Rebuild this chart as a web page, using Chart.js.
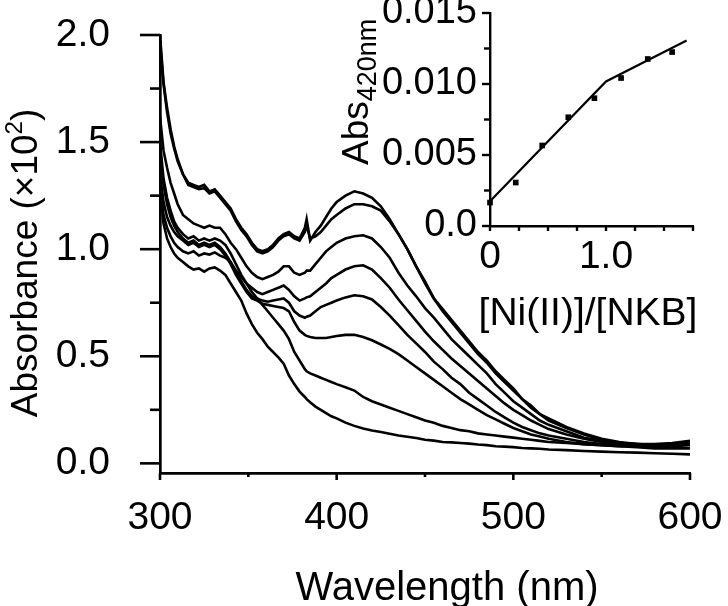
<!DOCTYPE html>
<html>
<head>
<meta charset="utf-8">
<script src="https://cdn.jsdelivr.net/npm/chart.js@4.4.0/dist/chart.umd.min.js"></script>
<style>
  html, body { margin: 0; padding: 0; background: #fff; }
  #wrap { position: relative; width: 728px; height: 606px; }
  #main { position: absolute; left: 0; top: 0; }
  #inset { position: absolute; left: 330px; top: 0; }
</style>
</head>
<body>
<div id="wrap">
  <canvas id="main" width="728" height="606"></canvas>
  <canvas id="inset" width="398" height="345"></canvas>
</div>
<script>
// Datos del espectro (nm)
const wavelengths = [300,302,304,306,308,310,
  313,316,319,322,325,328,331,334,337,340,
  343,346,349,352,355,358,361,364,367,370,
  373,376,379,382, 383,385, 388,391,394,397,400,
  405,410,415,420,425,430,435,440,445,450,
  455,460,465,470,475,480,485,490,495,500,
  505,510,515,520, 530,540,550,560,570,580,590,600];

// Absorbancia (x10^2), de la curva mas alta a la mas baja
const abs1 = [2.00,1.78,1.66,1.56,1.48,1.42,
  1.35,1.31,1.30,1.29,1.30,1.27,1.28,1.25,1.22,1.19,
  1.14,1.10,1.07,1.03,1.00,0.99,1.00,1.02,1.05,1.07,
  1.08,1.06,1.05,1.10, 1.14,1.04, 1.08,1.11,1.15,1.19,1.22,
  1.25,1.27,1.26,1.24,1.20,1.14,1.07,1.00,0.92,0.85,
  0.77,0.72,0.67,0.62,0.57,0.52,0.48,0.43,0.39,0.35,
  0.30,0.27,0.23,0.21, 0.17,0.14,0.115,0.10,0.09,0.09,0.095,0.105];
const abs2 = [1.97,1.77,1.64,1.54,1.47,1.41,
  1.35,1.30,1.29,1.28,1.285,1.26,1.27,1.24,1.21,1.18,
  1.13,1.09,1.06,1.02,0.99,0.98,0.99,1.01,1.04,1.06,
  1.07,1.05,1.04,1.08, 1.11,1.05, 1.06,1.08,1.11,1.14,1.16,
  1.19,1.21,1.21,1.20,1.18,1.13,1.07,1.00,0.92,0.84,
  0.77,0.71,0.66,0.61,0.56,0.51,0.47,0.42,0.38,0.34,
  0.30,0.26,0.23,0.20, 0.165,0.135,0.11,0.095,0.09,0.085,0.09,0.10];
const abs3 = [1.62,1.46,1.38,1.31,1.26,1.21,
  1.16,1.14,1.12,1.11,1.10,1.11,1.10,1.10,1.07,1.03,
  1.00,0.96,0.92,0.89,0.87,0.86,0.87,0.88,0.895,0.92,
  0.92,0.89,0.88,0.89, 0.90,0.90, 0.93,0.96,0.99,1.01,1.03,
  1.05,1.06,1.065,1.05,1.01,0.96,0.89,0.83,0.78,0.725,
  0.68,0.63,0.58,0.54,0.50,0.46,0.42,0.37,0.33,0.29,
  0.26,0.23,0.20,0.18, 0.15,0.12,0.105,0.095,0.09,0.085,0.09,0.095];
const abs4 = [1.50,1.33,1.24,1.18,1.13,1.10,
  1.07,1.05,1.06,1.04,1.05,1.04,1.05,1.04,1.02,0.98,
  0.93,0.88,0.84,0.82,0.80,0.79,0.80,0.81,0.82,0.83,
  0.81,0.78,0.76,0.77, 0.775,0.78, 0.80,0.82,0.84,0.865,0.88,
  0.905,0.92,0.925,0.905,0.865,0.82,0.765,0.715,0.665,0.615,
  0.57,0.53,0.49,0.455,0.42,0.385,0.35,0.315,0.28,0.25,
  0.225,0.20,0.18,0.16, 0.135,0.115,0.10,0.09,0.085,0.085,0.09,0.095];
const abs5 = [1.45,1.30,1.21,1.15,1.11,1.08,
  1.05,1.03,1.04,1.02,1.03,1.02,1.03,1.01,0.98,0.94,
  0.89,0.85,0.81,0.78,0.77,0.76,0.755,0.76,0.765,0.77,
  0.75,0.71,0.69,0.68, 0.685,0.69, 0.71,0.73,0.74,0.75,0.76,
  0.775,0.785,0.78,0.765,0.73,0.69,0.645,0.60,0.56,0.52,
  0.475,0.44,0.40,0.37,0.33,0.30,0.27,0.24,0.215,0.19,
  0.17,0.155,0.14,0.13, 0.115,0.10,0.09,0.085,0.08,0.08,0.085,0.09];
const abs6 = [1.35,1.22,1.15,1.11,1.08,1.06,
  1.04,1.02,1.03,1.01,1.02,1.01,1.02,1.00,0.97,0.93,
  0.88,0.84,0.80,0.77,0.76,0.745,0.74,0.735,0.73,0.725,
  0.71,0.66,0.62,0.60, 0.595,0.59, 0.585,0.585,0.585,0.59,0.595,
  0.60,0.60,0.59,0.575,0.555,0.535,0.51,0.48,0.45,0.42,
  0.39,0.36,0.33,0.30,0.275,0.25,0.225,0.205,0.185,0.165,
  0.15,0.135,0.125,0.115, 0.10,0.09,0.085,0.08,0.08,0.075,0.08,0.085];
const abs7 = [1.30,1.16,1.10,1.06,1.03,1.01,
  0.99,0.98,0.99,0.97,0.98,0.975,0.985,0.97,0.96,0.94,
  0.90,0.87,0.84,0.80,0.77,0.74,0.71,0.68,0.65,0.62,
  0.58,0.52,0.48,0.44, 0.43,0.42, 0.41,0.40,0.39,0.38,0.37,
  0.355,0.34,0.31,0.29,0.275,0.26,0.245,0.23,0.215,0.20,
  0.19,0.175,0.165,0.155,0.15,0.14,0.135,0.13,0.125,0.12,
  0.115,0.11,0.105,0.10, 0.095,0.09,0.085,0.08,0.075,0.07,0.07,0.07];
const abs8 = [1.27,1.12,1.05,1.01,0.98,0.96,
  0.94,0.92,0.905,0.91,0.895,0.91,0.915,0.90,0.88,0.84,
  0.80,0.76,0.70,0.65,0.61,0.58,0.545,0.52,0.495,0.465,
  0.41,0.37,0.335,0.31, 0.30,0.285, 0.265,0.25,0.235,0.22,0.21,
  0.19,0.175,0.163,0.153,0.146,0.138,0.13,0.124,0.118,0.11,
  0.106,0.10,0.098,0.095,0.092,0.088,0.085,0.08,0.078,0.076,
  0.072,0.07,0.068,0.065, 0.062,0.058,0.055,0.052,0.05,0.047,0.045,0.042];

// Ejes del grafico principal
const xTicks = [300,350,400,450,500,550,600];
const xLabeled = [300,400,500,600];
const yTicks = [0,0.25,0.5,0.75,1.0,1.25,1.5,1.75,2.0];
const yLabeled = [0,0.5,1.0,1.5,2.0];

// Datos del inserto (titulacion)
const ratio = [0,0.222,0.45,0.675,0.9,1.13,1.36,1.57];
const abs420 = [0.00165,0.00306,0.00567,0.00766,0.0090,0.01042,0.01176,0.01225];
const fitX = [0,1.0,1.695];
const fitY = [0.00174,0.01018,0.01307];
const insetXTicks = [0,0.25,0.5,0.75,1.0,1.25,1.5,1.75];
const insetXLabeled = [0,1.0];
const insetXText = ['0','1.0'];
const insetYTicks = [0,0.0025,0.005,0.0075,0.01,0.0125,0.015];
const insetYLabeled = [0,0.005,0.01,0.015];
const insetYText = ['0.0','0.005','0.010','0.015'];

const FONT = '"Liberation Sans", Arial, sans-serif';

//Dibuja las marcas de los ejes, largas en los valores con etiqueta
const tickMarks = {
  id: 'tickMarks',
  afterDraw(chart, args, opts) {
    const ctx = chart.ctx;
    ctx.save();
    ctx.strokeStyle = '#000';
    ctx.lineWidth = opts.width;
    Object.keys(opts.scales).forEach(function (id) {
      const scale = chart.scales[id];
      const cfg = opts.scales[id];
      scale.ticks.forEach(function (t) {
        const len = cfg.major.includes(t.value) ? cfg.majorLen : cfg.minorLen;
        const p = scale.getPixelForValue(t.value);
        ctx.beginPath();
        if (scale.isHorizontal()) {
          ctx.moveTo(p, scale.top);
          ctx.lineTo(p, scale.top + len);
        } else {
          ctx.moveTo(scale.right, p);
          ctx.lineTo(scale.right - len, p);
        }
        ctx.stroke();
      });
    });
    ctx.restore();
  }
};

//Titulos de los ejes (con subindices y superindices)
const axisText = {
  id: 'axisText',
  afterDraw(chart, args, opts) {
    const ctx = chart.ctx;
    opts.items.forEach(function (it) {
      ctx.save();
      ctx.translate(it.x, it.y);
      ctx.rotate(it.angle || 0);
      ctx.fillStyle = '#000';
      ctx.textBaseline = 'alphabetic';
      ctx.textAlign = 'left';
      const widths = it.parts.map(function (p) {
        ctx.font = p.size + 'px ' + FONT;
        return ctx.measureText(p.text).width;
      });
      const total = widths.reduce(function (a, b) { return a + b; }, 0);
      let x = it.align === 'center' ? -total / 2 : 0;
      it.parts.forEach(function (p, i) {
        ctx.font = p.size + 'px ' + FONT;
        ctx.fillText(p.text, x, p.dy || 0);
        x += widths[i];
      });
      ctx.restore();
    });
  }
};

function fixTicks(list) {
  return function (scale) {
    scale.ticks = list.map(function (v) { return { value: v }; });
  };
}

function noPad(size) {
  return function (scale) {
    if (scale.isHorizontal()) scale.height = size; else scale.width = size;
    scale.paddingTop = 0; scale.paddingBottom = 0;
    scale.paddingLeft = 0; scale.paddingRight = 0;
  };
}

const series = [abs1, abs2, abs3, abs4, abs5, abs6, abs7, abs8];

const mainCtx = document.getElementById('main').getContext('2d');
const mainChart = new Chart(mainCtx, {
  type: 'line',
  data: {
    datasets: series.map(function (s, k) {
      return {
        label: 'curva ' + (k + 1),
        data: wavelengths.map(function (w, i) { return { x: w, y: s[i] }; }),
        borderColor: '#000',
        borderWidth: 2.6,
        pointRadius: 0,
        tension: 0,
        fill: false
      };
    })
  },
  options: {
    responsive: false,
    animation: false,
    layout: { padding: { top: 35, right: 38, left: 0, bottom: 0 } },
    plugins: {
      legend: { display: false },
      tooltip: { enabled: false },
      tickMarks: {
        width: 2.6,
        scales: {
          x: { major: xLabeled, majorLen: 7, minorLen: 4 },
          y: { major: yLabeled, majorLen: 20, minorLen: 10 }
        }
      },
      axisText: {
        items: [
          { x: 447, y: 600, align: 'center', parts: [{ text: 'Wavelength (nm)', size: 40 }] },
          { x: 37, y: 263, angle: -Math.PI / 2, align: 'center',
            parts: [{ text: 'Absorbance (\u00d710', size: 37 }, { text: '2', size: 24, dy: -15 }, { text: ')', size: 37 }] }
        ]
      }
    },
    scales: {
      x: {
        type: 'linear',
        min: 300,
        max: 600,
        afterBuildTicks: fixTicks(xTicks),
        afterFit: noPad(133),
        grid: { drawOnChartArea: false, drawTicks: false },
        border: { display: true, color: '#000', width: 2.7 },
        ticks: {
          autoSkip: false,
          maxRotation: 0,
          padding: 22,
          color: '#000',
          font: { family: FONT, size: 39 },
          callback: function (v) { return xLabeled.includes(v) ? String(v) : ''; }
        }
      },
      y: {
        min: -0.045,
        max: 2.0,
        afterBuildTicks: fixTicks(yTicks),
        afterFit: noPad(160),
        grid: { drawOnChartArea: false, drawTicks: false },
        border: { display: true, color: '#000', width: 2.7 },
        ticks: {
          autoSkip: false,
          padding: 50,
          color: '#000',
          font: { family: FONT, size: 39 },
          callback: function (v) { return yLabeled.includes(v) ? v.toFixed(1) : ''; }
        }
      }
    }
  },
  plugins: [tickMarks, axisText]
});

const insetCtx = document.getElementById('inset').getContext('2d');
const insetChart = new Chart(insetCtx, {
  type: 'line',
  data: {
    datasets: [{
      label: 'ajuste',
      data: fitX.map(function (x, i) { return { x: x, y: fitY[i] }; }),
      borderColor: '#000',
      borderWidth: 2.2,
      pointRadius: 0,
      tension: 0,
      fill: false
    }, {
      label: 'Abs420',
      data: ratio.map(function (x, i) { return { x: x, y: abs420[i] }; }),
      showLine: false,
      pointStyle: 'rect',
      pointRadius: 4,
      pointBackgroundColor: '#000',
      pointBorderWidth: 0
    }]
  },
  options: {
    responsive: false,
    animation: false,
    clip: false,
    layout: { padding: { top: 13, right: 35, left: 0, bottom: 0 } },
    plugins: {
      legend: { display: false },
      tooltip: { enabled: false },
      tickMarks: {
        width: 2.4,
        scales: {
          x: { major: insetXLabeled, majorLen: 5, minorLen: 5 },
          y: { major: insetYLabeled, majorLen: 8, minorLen: 6 }
        }
      },
      axisText: {
        items: [
          { x: 258, y: 325, align: 'center', parts: [{ text: '[Ni(II)]/[NKB]', size: 39 }] },
          { x: 38, y: 165, angle: -Math.PI / 2, align: 'start',
            parts: [{ text: 'Abs', size: 37 }, { text: '420nm', size: 27, dy: 8 }] }
        ]
      }
    },
    scales: {
      x: {
        type: 'linear',
        min: 0,
        max: 1.75,
        afterBuildTicks: fixTicks(insetXTicks),
        afterFit: noPad(119),
        grid: { drawOnChartArea: false, drawTicks: false },
        border: { display: true, color: '#000', width: 2.4 },
        ticks: {
          autoSkip: false,
          maxRotation: 0,
          padding: 8,
          color: '#000',
          font: { family: FONT, size: 39 },
          callback: function (v) {
            const k = insetXLabeled.indexOf(v);
            return k >= 0 ? insetXText[k] : '';
          }
        }
      },
      y: {
        min: 0,
        max: 0.015,
        afterBuildTicks: fixTicks(insetYTicks),
        afterFit: noPad(160),
        grid: { drawOnChartArea: false, drawTicks: false },
        border: { display: true, color: '#000', width: 2.4 },
        ticks: {
          autoSkip: false,
          padding: 13,
          color: '#000',
          font: { family: FONT, size: 38 },
          callback: function (v) {
            const k = insetYLabeled.indexOf(v);
            return k >= 0 ? insetYText[k] : '';
          }
        }
      }
    }
  },
  plugins: [tickMarks, axisText]
});
</script>
</body>
</html>
